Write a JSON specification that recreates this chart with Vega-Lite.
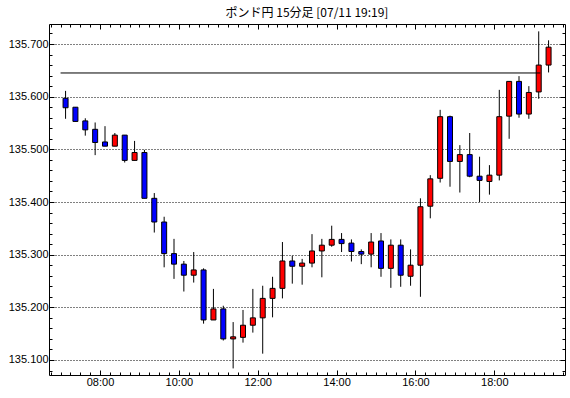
{
  "$schema": "https://vega.github.io/schema/vega-lite/v6.json",
  "width": 516,
  "height": 351,
  "autosize": {"type": "none"},
  "padding": {"left": 49, "top": 24, "right": 5, "bottom": 23},
  "background": "white",
  "title": {"text": "ポンド円 15分足 [07/11 19:19]", "font": "Noto Sans CJK JP", "fontSize": 12, "fontWeight": "normal", "color": "black", "anchor": "middle", "offset": 4},
  "config": {
    "view": {"stroke": "black", "strokeWidth": 1},
    "axis": {"labelFont": "Liberation Sans", "labelFontSize": 11, "labelColor": "black", "tickColor": "black", "tickWidth": 1, "domain": false, "title": null, "grid": false}
  },
  "data": {
    "values": [
      {"t": "2024-07-11T07:00:00Z", "o": 135.597, "h": 135.611, "l": 135.558, "c": 135.579},
      {"t": "2024-07-11T07:15:00Z", "o": 135.580, "h": 135.580, "l": 135.553, "c": 135.553},
      {"t": "2024-07-11T07:30:00Z", "o": 135.554, "h": 135.559, "l": 135.526, "c": 135.537},
      {"t": "2024-07-11T07:45:00Z", "o": 135.538, "h": 135.551, "l": 135.489, "c": 135.513},
      {"t": "2024-07-11T08:00:00Z", "o": 135.514, "h": 135.544, "l": 135.506, "c": 135.506},
      {"t": "2024-07-11T08:15:00Z", "o": 135.506, "h": 135.531, "l": 135.506, "c": 135.527},
      {"t": "2024-07-11T08:30:00Z", "o": 135.527, "h": 135.527, "l": 135.475, "c": 135.479},
      {"t": "2024-07-11T08:45:00Z", "o": 135.479, "h": 135.516, "l": 135.479, "c": 135.494},
      {"t": "2024-07-11T09:00:00Z", "o": 135.494, "h": 135.499, "l": 135.407, "c": 135.407},
      {"t": "2024-07-11T09:15:00Z", "o": 135.407, "h": 135.417, "l": 135.342, "c": 135.362},
      {"t": "2024-07-11T09:30:00Z", "o": 135.362, "h": 135.372, "l": 135.276, "c": 135.302},
      {"t": "2024-07-11T09:45:00Z", "o": 135.302, "h": 135.330, "l": 135.254, "c": 135.282},
      {"t": "2024-07-11T10:00:00Z", "o": 135.282, "h": 135.288, "l": 135.230, "c": 135.261},
      {"t": "2024-07-11T10:15:00Z", "o": 135.261, "h": 135.305, "l": 135.247, "c": 135.271},
      {"t": "2024-07-11T10:30:00Z", "o": 135.271, "h": 135.274, "l": 135.169, "c": 135.176},
      {"t": "2024-07-11T10:45:00Z", "o": 135.176, "h": 135.235, "l": 135.176, "c": 135.197},
      {"t": "2024-07-11T11:00:00Z", "o": 135.197, "h": 135.203, "l": 135.137, "c": 135.140},
      {"t": "2024-07-11T11:15:00Z", "o": 135.140, "h": 135.172, "l": 135.084, "c": 135.144},
      {"t": "2024-07-11T11:30:00Z", "o": 135.143, "h": 135.195, "l": 135.133, "c": 135.166},
      {"t": "2024-07-11T11:45:00Z", "o": 135.166, "h": 135.235, "l": 135.152, "c": 135.180},
      {"t": "2024-07-11T12:00:00Z", "o": 135.180, "h": 135.241, "l": 135.112, "c": 135.217},
      {"t": "2024-07-11T12:15:00Z", "o": 135.217, "h": 135.258, "l": 135.181, "c": 135.236},
      {"t": "2024-07-11T12:30:00Z", "o": 135.236, "h": 135.324, "l": 135.217, "c": 135.288},
      {"t": "2024-07-11T12:45:00Z", "o": 135.288, "h": 135.298, "l": 135.245, "c": 135.278},
      {"t": "2024-07-11T13:00:00Z", "o": 135.278, "h": 135.292, "l": 135.243, "c": 135.284},
      {"t": "2024-07-11T13:15:00Z", "o": 135.284, "h": 135.339, "l": 135.276, "c": 135.307},
      {"t": "2024-07-11T13:30:00Z", "o": 135.307, "h": 135.330, "l": 135.257, "c": 135.318},
      {"t": "2024-07-11T13:45:00Z", "o": 135.318, "h": 135.355, "l": 135.315, "c": 135.329},
      {"t": "2024-07-11T14:00:00Z", "o": 135.329, "h": 135.341, "l": 135.305, "c": 135.321},
      {"t": "2024-07-11T14:15:00Z", "o": 135.322, "h": 135.329, "l": 135.287, "c": 135.306},
      {"t": "2024-07-11T14:30:00Z", "o": 135.306, "h": 135.310, "l": 135.282, "c": 135.301},
      {"t": "2024-07-11T14:45:00Z", "o": 135.301, "h": 135.341, "l": 135.276, "c": 135.324},
      {"t": "2024-07-11T15:00:00Z", "o": 135.326, "h": 135.341, "l": 135.258, "c": 135.274},
      {"t": "2024-07-11T15:15:00Z", "o": 135.274, "h": 135.329, "l": 135.237, "c": 135.318},
      {"t": "2024-07-11T15:30:00Z", "o": 135.318, "h": 135.329, "l": 135.239, "c": 135.261},
      {"t": "2024-07-11T15:45:00Z", "o": 135.259, "h": 135.310, "l": 135.241, "c": 135.280},
      {"t": "2024-07-11T16:00:00Z", "o": 135.280, "h": 135.407, "l": 135.220, "c": 135.391},
      {"t": "2024-07-11T16:15:00Z", "o": 135.392, "h": 135.451, "l": 135.369, "c": 135.444},
      {"t": "2024-07-11T16:30:00Z", "o": 135.445, "h": 135.575, "l": 135.437, "c": 135.562},
      {"t": "2024-07-11T16:45:00Z", "o": 135.562, "h": 135.564, "l": 135.429, "c": 135.477},
      {"t": "2024-07-11T17:00:00Z", "o": 135.477, "h": 135.508, "l": 135.418, "c": 135.490},
      {"t": "2024-07-11T17:15:00Z", "o": 135.490, "h": 135.531, "l": 135.447, "c": 135.449},
      {"t": "2024-07-11T17:30:00Z", "o": 135.449, "h": 135.486, "l": 135.400, "c": 135.441},
      {"t": "2024-07-11T17:45:00Z", "o": 135.439, "h": 135.470, "l": 135.414, "c": 135.451},
      {"t": "2024-07-11T18:00:00Z", "o": 135.451, "h": 135.613, "l": 135.441, "c": 135.562},
      {"t": "2024-07-11T18:15:00Z", "o": 135.563, "h": 135.629, "l": 135.520, "c": 135.629},
      {"t": "2024-07-11T18:30:00Z", "o": 135.629, "h": 135.639, "l": 135.560, "c": 135.567},
      {"t": "2024-07-11T18:45:00Z", "o": 135.567, "h": 135.620, "l": 135.558, "c": 135.608},
      {"t": "2024-07-11T19:00:00Z", "o": 135.609, "h": 135.724, "l": 135.596, "c": 135.660},
      {"t": "2024-07-11T19:15:00Z", "o": 135.660, "h": 135.707, "l": 135.646, "c": 135.694}
    ]
  },
  "layer": [
    {
      "mark": {"type": "rule", "color": "black", "strokeWidth": 1, "xOffset": 5},
      "encoding": {
        "x": {"field": "t", "type": "temporal",
          "scale": {"type": "utc", "domain": [{"year": 2024, "month": 7, "date": 11, "hours": 6, "minutes": 50, "utc": true}, {"year": 2024, "month": 7, "date": 11, "hours": 19, "minutes": 40, "utc": true}]},
          "axis": {"orient": "bottom", "format": "%H:%M", "tickSize": -5, "labelPadding": 6,
            "values": [
              {"year": 2024, "month": 7, "date": 11, "hours": 8, "utc": true},
              {"year": 2024, "month": 7, "date": 11, "hours": 10, "utc": true},
              {"year": 2024, "month": 7, "date": 11, "hours": 12, "utc": true},
              {"year": 2024, "month": 7, "date": 11, "hours": 14, "utc": true},
              {"year": 2024, "month": 7, "date": 11, "hours": 16, "utc": true},
              {"year": 2024, "month": 7, "date": 11, "hours": 18, "utc": true}
            ]}},
        "y": {"field": "l", "type": "quantitative",
          "scale": {"domain": [135.0715, 135.738], "zero": false, "nice": false},
          "axis": {"orient": "left",
            "values": [135.1, 135.2, 135.3, 135.4, 135.5, 135.6, 135.7],
            "format": ".3f", "tickSize": -5, "labelPadding": 6,
            "grid": true, "gridColor": "black", "gridDash": [1, 2], "gridWidth": 1}},
        "y2": {"field": "h"}
      }
    },
    {
      "mark": {"type": "bar", "size": 5, "stroke": "black", "strokeWidth": 1, "xOffset": 5},
      "encoding": {
        "x": {"field": "t", "type": "temporal", "scale": {"type": "utc"},
          "axis": {"orient": "bottom", "labels": false, "tickCount": 52, "tickSize": -3}},
        "y": {"field": "o", "type": "quantitative",
          "axis": {"orient": "left", "labels": false, "tickSize": -3,
            "values": [135.08, 135.1, 135.12, 135.14, 135.16, 135.18, 135.2, 135.22, 135.24, 135.26, 135.28, 135.3, 135.32, 135.34, 135.36, 135.38, 135.4, 135.42, 135.44, 135.46, 135.48, 135.5, 135.52, 135.54, 135.56, 135.58, 135.6, 135.62, 135.64, 135.66, 135.68, 135.7, 135.72]}},
        "y2": {"field": "c"},
        "color": {"condition": {"test": "datum.c >= datum.o", "value": "#ff0000"}, "value": "#0000ff"}
      }
    },
    {
      "data": {"values": [{"from": "2024-07-11T07:00:00Z", "to": "2024-07-11T19:10:00Z", "level": 135.645}]},
      "mark": {"type": "rule", "color": "black", "strokeWidth": 1},
      "encoding": {
        "x": {"field": "from", "type": "temporal", "scale": {"type": "utc"},
          "axis": {"orient": "top", "labels": false, "tickSize": -5,
            "values": [
              {"year": 2024, "month": 7, "date": 11, "hours": 8, "utc": true},
              {"year": 2024, "month": 7, "date": 11, "hours": 10, "utc": true},
              {"year": 2024, "month": 7, "date": 11, "hours": 12, "utc": true},
              {"year": 2024, "month": 7, "date": 11, "hours": 14, "utc": true},
              {"year": 2024, "month": 7, "date": 11, "hours": 16, "utc": true},
              {"year": 2024, "month": 7, "date": 11, "hours": 18, "utc": true}
            ]}},
        "x2": {"field": "to"},
        "y": {"field": "level", "type": "quantitative",
          "axis": {"orient": "right", "labels": false, "tickSize": -5, "values": [135.1, 135.2, 135.3, 135.4, 135.5, 135.6, 135.7]}}
      }
    },
    {
      "data": {"values": [{"from": "2024-07-11T07:00:00Z", "to": "2024-07-11T19:10:00Z", "level": 135.645}]},
      "mark": {"type": "rule", "color": "black", "strokeWidth": 1, "strokeOpacity": 0},
      "encoding": {
        "x": {"field": "from", "type": "temporal", "scale": {"type": "utc"},
          "axis": {"orient": "top", "labels": false, "tickCount": 52, "tickSize": -3}},
        "x2": {"field": "to"},
        "y": {"field": "level", "type": "quantitative",
          "axis": {"orient": "right", "labels": false, "tickSize": -3,
            "values": [135.08, 135.1, 135.12, 135.14, 135.16, 135.18, 135.2, 135.22, 135.24, 135.26, 135.28, 135.3, 135.32, 135.34, 135.36, 135.38, 135.4, 135.42, 135.44, 135.46, 135.48, 135.5, 135.52, 135.54, 135.56, 135.58, 135.6, 135.62, 135.64, 135.66, 135.68, 135.7, 135.72]}}
      }
    }
  ],
  "resolve": {"axis": {"x": "independent", "y": "independent"}}
}
